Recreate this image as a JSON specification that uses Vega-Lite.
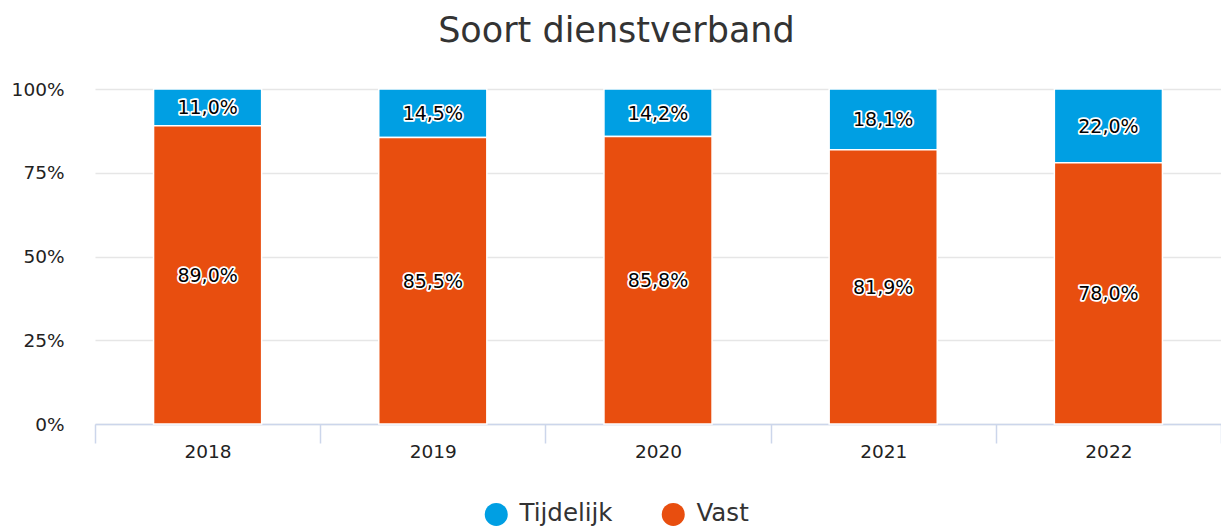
{
  "$schema": "https://vega.github.io/schema/vega-lite/v6.json",
  "width": 1126,
  "height": 335,
  "autosize": {"type": "pad"},
  "padding": {"left": 11, "top": 14, "right": 0, "bottom": 0},
  "background": "white",
  "title": {
    "text": "Soort dienstverband",
    "font": "DejaVu Sans",
    "fontSize": 35,
    "fontWeight": "normal",
    "color": "#333333",
    "anchor": "middle",
    "frame": "bounds",
    "offset": 31
  },
  "config": {
    "font": "DejaVu Sans",
    "view": {"stroke": null},
    "locale": {
      "number": {"decimal": ",", "thousands": ".", "grouping": [3], "currency": ["€", ""]}
    }
  },
  "data": {
    "values": [
      {"year": "2018", "series": "Tijdelijk", "value": 0.110},
      {"year": "2018", "series": "Vast", "value": 0.890},
      {"year": "2019", "series": "Tijdelijk", "value": 0.145},
      {"year": "2019", "series": "Vast", "value": 0.855},
      {"year": "2020", "series": "Tijdelijk", "value": 0.142},
      {"year": "2020", "series": "Vast", "value": 0.858},
      {"year": "2021", "series": "Tijdelijk", "value": 0.181},
      {"year": "2021", "series": "Vast", "value": 0.819},
      {"year": "2022", "series": "Tijdelijk", "value": 0.220},
      {"year": "2022", "series": "Vast", "value": 0.780}
    ]
  },
  "encoding": {
    "x": {
      "field": "year",
      "type": "nominal",
      "title": null,
      "scale": {"paddingInner": 0, "paddingOuter": 0},
      "axis": {
        "labelAngle": 0,
        "labelFont": "DejaVu Sans",
        "labelFontSize": 18.5,
        "labelColor": "#222222",
        "labelPadding": -1,
        "domainColor": "#ccd6eb",
        "domainWidth": 1.5,
        "tickColor": "#ccd6eb",
        "tickWidth": 1.5,
        "tickSize": 19,
        "tickBand": "extent",
        "grid": false
      }
    },
    "order": {"field": "series", "sort": "descending"}
  },
  "layer": [
    {
      "mark": {"type": "bar", "stroke": "white", "strokeWidth": 1.5, "width": {"band": 0.48}},
      "encoding": {
        "y": {
          "field": "value",
          "type": "quantitative",
          "stack": "normalize",
          "title": null,
          "scale": {"domain": [0, 1]},
          "axis": {
            "format": ".0%",
            "values": [0, 0.25, 0.5, 0.75, 1],
            "labelFont": "DejaVu Sans",
            "labelFontSize": 18.5,
            "labelColor": "#222222",
            "labelPadding": 31,
            "tickSize": 0,
            "ticks": false,
            "domain": false,
            "gridColor": "#e6e6e6",
            "gridWidth": 1.5
          }
        },
        "color": {
          "field": "series",
          "type": "nominal",
          "scale": {"domain": ["Tijdelijk", "Vast"], "range": ["#009fe3", "#e84e0f"]},
          "legend": {
            "title": null,
            "orient": "none",
            "legendX": 389,
            "legendY": 413,
            "direction": "horizontal",
            "symbolType": "circle",
            "symbolSize": 529,
            "symbolStrokeWidth": 0,
            "labelFont": "DejaVu Sans",
            "labelFontSize": 24.5,
            "labelColor": "#333333",
            "columnPadding": 48,
            "labelOffset": 11
          }
        }
      }
    },
    {
      "mark": {"type": "text", "fontSize": 19, "font": "DejaVu Sans", "stroke": "white", "strokeWidth": 3.5, "strokeJoin": "round", "fill": "white", "dy": 1},
      "encoding": {
        "y": {"field": "value", "type": "quantitative", "stack": "normalize", "bandPosition": 0.5},
        "text": {"field": "value", "type": "quantitative", "format": ".1%"}
      }
    },
    {
      "mark": {"type": "text", "fontSize": 19, "font": "DejaVu Sans", "fill": "black", "dy": 1},
      "encoding": {
        "y": {"field": "value", "type": "quantitative", "stack": "normalize", "bandPosition": 0.5},
        "text": {"field": "value", "type": "quantitative", "format": ".1%"}
      }
    }
  ]
}
